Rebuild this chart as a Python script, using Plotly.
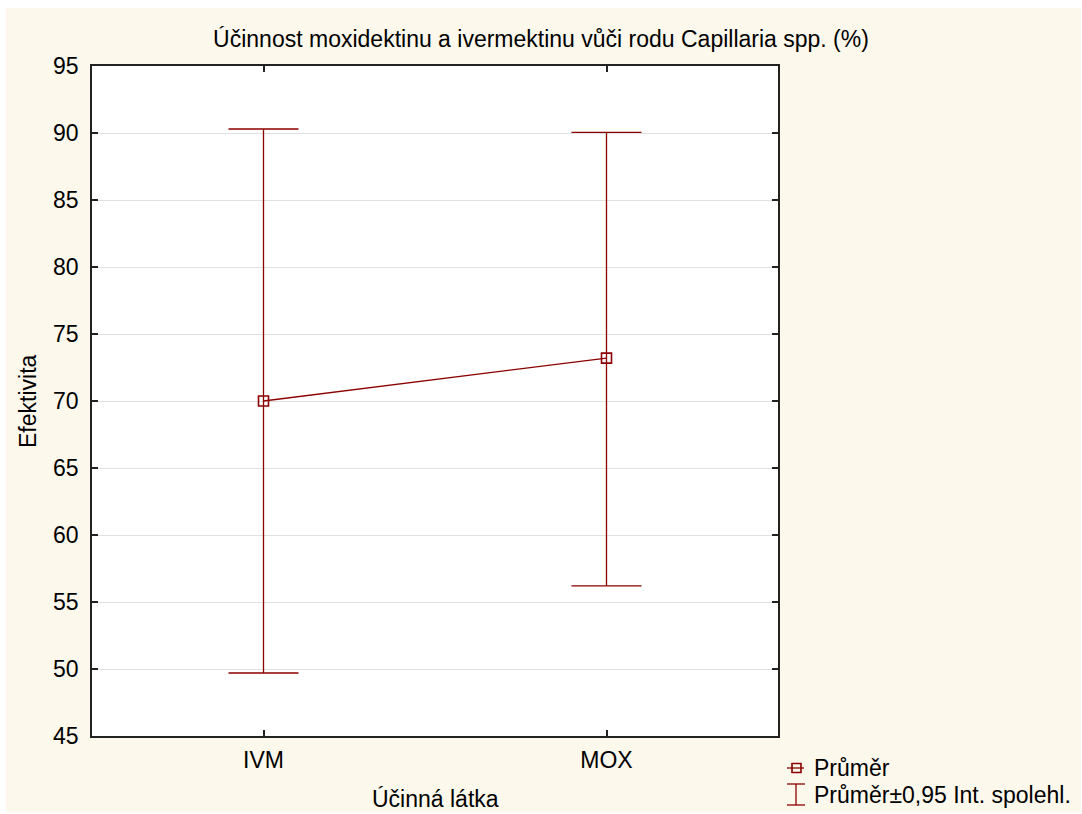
import plotly.graph_objects as go

# ---- data ----
categories = ["IVM", "MOX"]
means = [70.0, 73.2]
upper = [90.3, 90.05]
lower = [49.7, 56.2]
y_ticks = [45, 50, 55, 60, 65, 70, 75, 80, 85, 90, 95]

title_text = "Účinnost moxidektinu a ivermektinu vůči rodu Capillaria spp. (%)"
x_title = "Účinná látka"
y_title = "Efektivita"
legend_labels = ["Průměr", "Průměr±0,95 Int. spolehl."]

RED = "#8b0000"
CREAM = "#fdf8ec"
FONT = "Liberation Sans, Arial, sans-serif"
FS = 23

W, H = 1082, 814
L, R, T, B = 92, 304, 66, 78
pw = W - L - R
ph = H - T - B


def px(x):
    return (x - L) / pw


def py(y):
    return (H - B - y) / ph


err_plus = [u - m for u, m in zip(upper, means)]
err_minus = [m - l for m, l in zip(means, lower)]

fig = go.Figure()
fig.add_trace(go.Scatter(
    x=categories, y=means, mode="lines+markers",
    line=dict(color=RED, width=1.3),
    marker=dict(symbol="square-open", size=10, color=RED, line=dict(width=1.6, color=RED)),
    error_y=dict(type="data", symmetric=False, array=err_plus, arrayminus=err_minus,
                 color=RED, thickness=1.3, width=35),
    showlegend=False,
))

shapes = [
    # cream background of the chart image
    dict(type="rect", xref="paper", yref="paper", x0=px(6), x1=px(1081), y0=py(812), y1=py(8),
         fillcolor=CREAM, line=dict(width=0), layer="below"),
    # white plot area
    dict(type="rect", xref="paper", yref="paper", x0=0, x1=1, y0=0, y1=1,
         fillcolor="white", line=dict(width=0), layer="below"),
    # legend glyph 1: line with square
    dict(type="line", xref="paper", yref="paper", x0=px(787), x1=px(804), y0=py(768), y1=py(768),
         line=dict(color=RED, width=1.3)),
    dict(type="rect", xref="paper", yref="paper", x0=px(792), x1=px(801), y0=py(772.5), y1=py(763.5),
         line=dict(color=RED, width=1.6), fillcolor="rgba(0,0,0,0)"),
    # legend glyph 2: I-beam
    dict(type="line", xref="paper", yref="paper", x0=px(796), x1=px(796), y0=py(784), y1=py(805),
         line=dict(color=RED, width=1.3)),
    dict(type="line", xref="paper", yref="paper", x0=px(787), x1=px(805), y0=py(784), y1=py(784),
         line=dict(color=RED, width=1.3)),
    dict(type="line", xref="paper", yref="paper", x0=px(787), x1=px(805), y0=py(805), y1=py(805),
         line=dict(color=RED, width=1.3)),
]

annotations = [
    dict(text=legend_labels[0], xref="paper", yref="paper", x=px(812), y=py(768),
         xanchor="left", yanchor="middle", showarrow=False, font=dict(size=FS, color="black", family=FONT)),
    dict(text=legend_labels[1], xref="paper", yref="paper", x=px(812), y=py(795),
         xanchor="left", yanchor="middle", showarrow=False, font=dict(size=FS, color="black", family=FONT)),
    dict(text=x_title, xref="paper", yref="paper", x=0.5, y=py(799),
         xanchor="center", yanchor="middle", showarrow=False, font=dict(size=FS, color="black", family=FONT)),
    dict(text=y_title, xref="paper", yref="paper", x=px(28), y=0.5, textangle=-90,
         xanchor="center", yanchor="middle", showarrow=False, font=dict(size=FS, color="black", family=FONT)),
]

fig.update_layout(
    width=W, height=H,
    margin=dict(l=L, r=R, t=T, b=B, pad=0),
    paper_bgcolor="white",
    plot_bgcolor="white",
    font=dict(family=FONT, size=FS, color="black"),
    title=dict(text=title_text, x=0.5, xref="container", xanchor="center",
               y=1 - 39 / H, yref="container", yanchor="middle",
               font=dict(size=FS, color="black", family=FONT)),
    shapes=shapes,
    annotations=annotations,
    showlegend=False,
)

fig.update_xaxes(
    type="category", range=[-0.5, 1.5],
    showgrid=False, zeroline=False,
    showline=True, linecolor="#222", linewidth=1.5, mirror="allticks",
    ticks="inside", ticklen=6, tickcolor="#222", tickwidth=1.5,
    tickfont=dict(size=FS, color="black", family=FONT),
    ticklabelstandoff=3,
)
fig.update_yaxes(
    range=[45, 95], tickvals=y_ticks,
    showgrid=True, gridcolor="#e0e0e0", gridwidth=1, zeroline=False,
    showline=True, linecolor="#222", linewidth=1.5, mirror="allticks",
    ticks="inside", ticklen=6, tickcolor="#222", tickwidth=1.5,
    tickfont=dict(size=FS, color="black", family=FONT),
    ticklabelstandoff=7,
)

fig.write_html("out.html")
